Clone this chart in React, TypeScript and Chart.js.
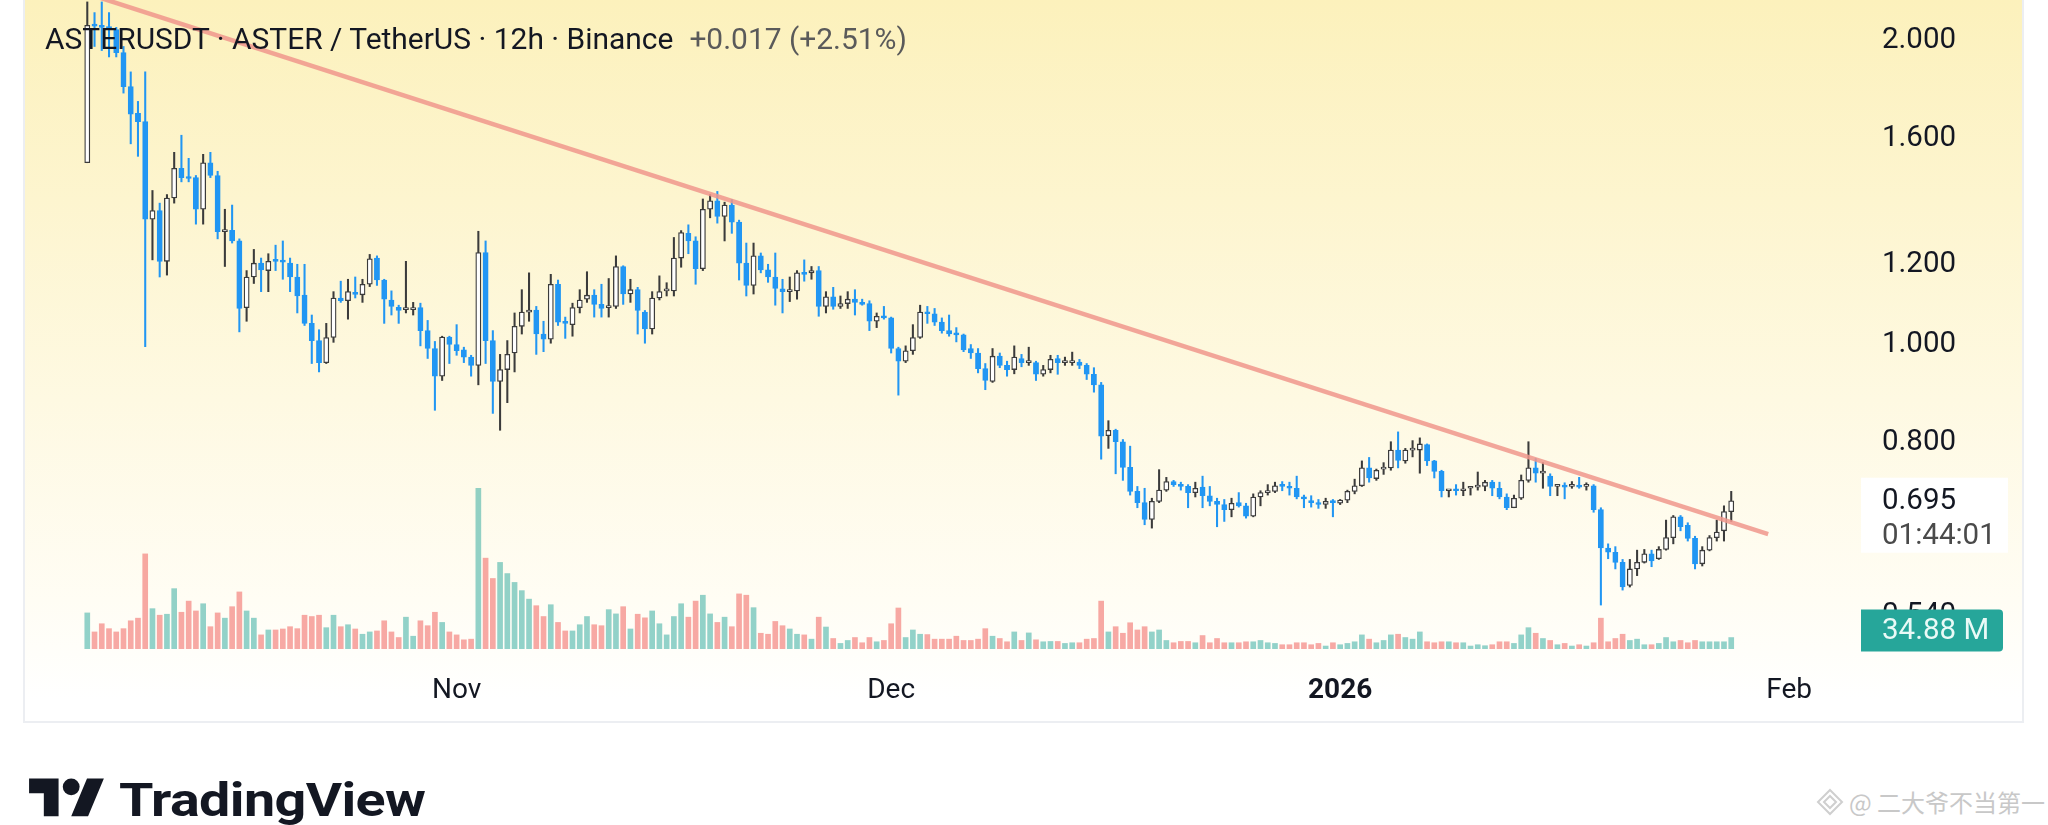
import React, { useEffect, useRef } from 'react';
import { Chart, registerables } from 'chart.js';

Chart.register(...registerables);

// ---- data (12h candles, ASTERUSDT) ----
const opens = [1.501,2.058,2.053,2.047,2.033,1.929,1.785,1.680,1.648,1.320,1.346,1.199,1.385,1.482,1.454,1.451,1.350,1.501,1.458,1.283,1.287,1.256,1.079,1.157,1.194,1.174,1.203,1.201,1.194,1.157,1.110,1.041,1.001,0.952,1.008,1.103,1.096,1.117,1.111,1.138,1.208,1.149,1.098,1.080,1.074,1.074,1.079,1.024,0.983,0.923,1.009,0.992,0.980,0.964,0.946,1.223,1.001,0.912,0.937,0.973,1.034,1.068,1.073,1.016,1.004,1.138,1.046,1.038,1.079,1.100,1.110,1.087,1.079,1.082,1.185,1.113,1.124,1.068,1.028,1.103,1.121,1.121,1.208,1.278,1.256,1.179,1.350,1.376,1.328,1.363,1.311,1.194,1.135,1.214,1.176,1.157,1.126,1.119,1.121,1.168,1.168,1.174,1.082,1.106,1.082,1.089,1.100,1.092,1.089,1.046,1.058,1.054,0.983,0.955,0.978,1.008,1.068,1.064,1.044,1.024,1.016,1.014,0.983,0.973,0.939,0.912,0.966,0.946,0.937,0.961,0.952,0.952,0.927,0.937,0.961,0.952,0.952,0.953,0.946,0.927,0.905,0.806,0.816,0.795,0.750,0.710,0.692,0.666,0.694,0.712,0.726,0.721,0.718,0.708,0.717,0.703,0.694,0.689,0.681,0.692,0.687,0.671,0.701,0.708,0.710,0.719,0.718,0.715,0.701,0.694,0.692,0.689,0.694,0.691,0.696,0.710,0.719,0.749,0.731,0.747,0.749,0.780,0.761,0.780,0.780,0.790,0.761,0.743,0.711,0.712,0.711,0.715,0.717,0.718,0.725,0.715,0.701,0.684,0.699,0.728,0.749,0.740,0.735,0.718,0.719,0.718,0.719,0.718,0.719,0.681,0.624,0.618,0.604,0.573,0.595,0.604,0.616,0.609,0.622,0.639,0.670,0.657,0.638,0.602,0.621,0.639,0.649,0.678];
const highs = [2.165,2.113,2.165,2.113,2.043,1.956,1.846,1.726,1.846,1.409,1.369,1.396,1.537,1.598,1.516,1.458,1.530,1.537,1.472,1.350,1.363,1.262,1.174,1.232,1.208,1.220,1.244,1.256,1.208,1.191,1.191,1.061,1.026,1.041,1.119,1.146,1.151,1.157,1.151,1.218,1.214,1.151,1.121,1.085,1.199,1.092,1.090,1.048,0.999,1.011,1.011,1.038,0.986,0.968,1.284,1.256,1.024,0.970,1.001,1.066,1.124,1.168,1.082,1.046,1.164,1.149,1.056,1.090,1.124,1.171,1.124,1.138,1.153,1.214,1.187,1.151,1.130,1.072,1.119,1.160,1.142,1.266,1.286,1.303,1.268,1.382,1.396,1.406,1.372,1.380,1.317,1.250,1.250,1.222,1.191,1.222,1.151,1.157,1.174,1.203,1.185,1.185,1.119,1.130,1.108,1.119,1.124,1.100,1.096,1.066,1.082,1.056,0.986,0.989,1.038,1.085,1.082,1.077,1.054,1.061,1.031,1.016,0.992,0.983,0.950,0.983,0.973,0.955,0.989,0.970,0.986,0.955,0.946,0.968,0.968,0.964,0.975,0.959,0.950,0.941,0.910,0.834,0.818,0.799,0.787,0.718,0.715,0.699,0.746,0.733,0.728,0.725,0.721,0.725,0.735,0.718,0.699,0.697,0.699,0.708,0.691,0.706,0.711,0.721,0.725,0.726,0.725,0.735,0.704,0.703,0.697,0.699,0.697,0.697,0.712,0.730,0.761,0.767,0.747,0.758,0.795,0.813,0.783,0.797,0.802,0.791,0.762,0.745,0.712,0.721,0.725,0.718,0.742,0.728,0.728,0.725,0.706,0.704,0.737,0.795,0.765,0.758,0.739,0.721,0.724,0.726,0.733,0.724,0.721,0.684,0.630,0.626,0.608,0.608,0.621,0.622,0.621,0.626,0.665,0.672,0.672,0.661,0.641,0.626,0.642,0.665,0.687,0.710];
const lows = [1.501,1.956,1.938,1.910,1.910,1.759,1.567,1.523,0.987,1.203,1.157,1.162,1.369,1.437,1.437,1.305,1.305,1.451,1.262,1.185,1.250,1.021,1.046,1.140,1.119,1.119,1.174,1.151,1.119,1.066,1.036,0.950,0.932,0.950,0.997,1.092,1.051,1.103,1.092,1.132,1.135,1.041,1.061,1.041,1.066,1.061,0.989,0.961,0.854,0.914,0.950,0.968,0.952,0.923,0.905,0.950,0.848,0.816,0.869,0.932,1.016,1.046,0.970,0.976,0.995,1.036,1.006,1.011,1.066,1.092,1.056,1.056,1.056,1.077,1.087,1.092,1.016,0.995,1.016,1.098,1.108,1.108,1.183,1.220,1.138,1.174,1.324,1.308,1.256,1.278,1.149,1.108,1.113,1.168,1.143,1.085,1.066,1.094,1.100,1.146,1.151,1.058,1.066,1.075,1.077,1.077,1.061,1.085,1.024,1.031,1.051,0.973,0.884,0.952,0.970,1.006,1.041,1.036,1.018,1.011,0.998,0.976,0.961,0.930,0.895,0.910,0.941,0.923,0.928,0.943,0.946,0.914,0.923,0.930,0.927,0.946,0.946,0.939,0.916,0.890,0.764,0.783,0.739,0.728,0.704,0.684,0.658,0.653,0.692,0.710,0.718,0.712,0.684,0.701,0.684,0.687,0.655,0.663,0.670,0.685,0.668,0.670,0.687,0.704,0.708,0.711,0.704,0.698,0.684,0.685,0.683,0.683,0.670,0.689,0.692,0.706,0.718,0.725,0.728,0.738,0.745,0.749,0.757,0.768,0.740,0.753,0.732,0.701,0.701,0.704,0.703,0.704,0.712,0.711,0.703,0.698,0.681,0.684,0.697,0.725,0.725,0.715,0.703,0.703,0.698,0.715,0.715,0.712,0.677,0.548,0.609,0.595,0.567,0.571,0.586,0.603,0.598,0.608,0.621,0.630,0.649,0.634,0.595,0.599,0.620,0.634,0.634,0.663];
const closes = [2.053,2.049,2.043,2.033,1.929,1.785,1.677,1.648,1.320,1.346,1.199,1.385,1.482,1.451,1.448,1.350,1.501,1.458,1.283,1.287,1.256,1.077,1.157,1.194,1.176,1.199,1.199,1.197,1.157,1.108,1.041,1.001,0.952,1.008,1.103,1.096,1.119,1.112,1.138,1.206,1.149,1.100,1.082,1.072,1.076,1.079,1.024,0.983,0.923,1.009,0.992,0.978,0.964,0.946,1.223,1.001,0.912,0.937,0.970,1.034,1.068,1.073,1.016,1.004,1.138,1.044,1.041,1.079,1.098,1.110,1.087,1.077,1.082,1.185,1.113,1.124,1.072,1.028,1.103,1.119,1.124,1.208,1.280,1.256,1.179,1.350,1.376,1.328,1.363,1.311,1.194,1.135,1.214,1.176,1.157,1.127,1.119,1.121,1.168,1.164,1.174,1.082,1.106,1.082,1.089,1.100,1.092,1.087,1.046,1.058,1.054,0.983,0.955,0.978,1.008,1.068,1.064,1.044,1.024,1.016,1.014,0.980,0.973,0.939,0.914,0.966,0.946,0.937,0.964,0.952,0.955,0.927,0.937,0.959,0.952,0.955,0.955,0.946,0.927,0.905,0.805,0.816,0.795,0.750,0.710,0.692,0.666,0.694,0.712,0.726,0.721,0.718,0.708,0.715,0.703,0.694,0.689,0.681,0.691,0.687,0.671,0.701,0.708,0.710,0.719,0.718,0.715,0.701,0.698,0.692,0.689,0.694,0.692,0.696,0.710,0.719,0.749,0.732,0.745,0.749,0.780,0.762,0.780,0.782,0.791,0.761,0.743,0.711,0.712,0.711,0.712,0.718,0.718,0.725,0.715,0.701,0.684,0.699,0.728,0.749,0.740,0.742,0.718,0.719,0.717,0.719,0.717,0.719,0.681,0.624,0.618,0.604,0.571,0.595,0.604,0.616,0.606,0.622,0.639,0.670,0.655,0.638,0.602,0.621,0.639,0.647,0.678,0.695];
const volumesM = [110,52,77,62,52,62,86,94,290,123,103,106,184,112,146,116,138,68,110,94,129,174,116,94,43,58,58,61,68,62,103,99,103,65,103,68,74,61,45,52,55,86,52,35,97,39,86,71,112,81,52,43,28,30,490,277,215,264,230,203,178,152,132,99,135,81,55,55,74,99,74,71,120,107,129,61,106,95,116,77,43,99,138,97,146,164,107,81,97,68,168,164,126,48,45,84,71,61,45,43,30,97,67,32,17,26,35,19,35,22,26,77,125,35,58,45,44,30,30,30,39,26,26,30,62,39,32,22,52,26,49,28,22,23,23,17,19,19,30,32,146,52,68,48,80,58,68,52,58,26,19,23,23,19,41,19,32,19,19,19,22,22,26,19,17,13,13,19,19,13,17,9,19,13,17,22,43,30,19,26,43,45,35,30,52,22,19,22,22,19,19,9,13,10,13,22,22,17,43,65,48,32,26,13,17,9,13,9,19,94,22,32,45,26,30,13,13,17,35,22,26,19,26,22,22,22,22,34.88];

const monthTickPositions = [51, 111, 173, 235];
const monthTickLabels = ['Nov', 'Dec', '2026', 'Feb'];
const priceTicks = [0.54, 0.8, 1.0, 1.2, 1.6, 2.0];
const trendLineX = [0, 232.1];
const trendLineY = [2.206, 0.644];

const symbolTitle = 'ASTERUSDT · ASTER / TetherUS · 12h · Binance';
const changeText = '+0.017 (+2.51%)';
const countdownText = '01:44:01';
const lastVolumeText = '34.88 M';
const watermarkText = '@ 二大爷不当第一';

const UP_BODY = '#ffffff';
const UP_LINE = '#3b3b3b';
const DOWN = '#2196f3';
const VOL_UP = 'rgba(38,166,154,0.5)';
const VOL_DOWN = 'rgba(239,83,80,0.5)';

const FONT = 'Roboto, "Noto Sans", sans-serif';

function zeroPad(scale: any) {
  scale.paddingTop = 0;
  scale.paddingBottom = 0;
  scale.paddingLeft = 0;
  scale.paddingRight = 0;
}

function ChartCanvas() {
  const ref = useRef<HTMLCanvasElement | null>(null);
  useEffect(() => {
    if (!ref.current) return;
    const n = closes.length;
    const isUp = closes.map((c, i) => c >= opens[i]);

    const labelPlugin = {
      id: 'lastLabels',
      afterDraw(chart: any) {
        const ctx = chart.ctx;
        const area = chart.chartArea;
        const ys = chart.scales.y;
        const yv = chart.scales.yv;
        const last = n - 1;
        const py = ys.getPixelForValue(closes[last]);
        const bx = area.right + 11;
        ctx.save();
        ctx.fillStyle = '#ffffff';
        ctx.fillRect(bx, py - 23, 147, 75);
        ctx.textAlign = 'left';
        ctx.textBaseline = 'middle';
        ctx.font = `29.5px ${FONT}`;
        ctx.fillStyle = '#131722';
        ctx.fillText(closes[last].toFixed(3), area.right + 32, py + 1);
        ctx.fillStyle = '#4a4a4a';
        ctx.fillText(countdownText, area.right + 32, py + 36);
        const vy = yv.getPixelForValue(volumesM[last]) - 7;
        ctx.fillStyle = '#26a69a';
        ctx.beginPath();
        const w = 142, h = 42, r = 4;
        const x0 = bx, y0 = vy - h / 2;
        ctx.moveTo(x0, y0);
        ctx.lineTo(x0 + w - r, y0);
        ctx.quadraticCurveTo(x0 + w, y0, x0 + w, y0 + r);
        ctx.lineTo(x0 + w, y0 + h - r);
        ctx.quadraticCurveTo(x0 + w, y0 + h, x0 + w - r, y0 + h);
        ctx.lineTo(x0, y0 + h);
        ctx.closePath();
        ctx.fill();
        ctx.fillStyle = '#eafaf7';
        ctx.fillText(lastVolumeText, area.right + 32, vy + 1);
        ctx.restore();
      },
    };

    const chart = new Chart(ref.current, {
      type: 'bar',
      data: {
        datasets: [
          {
            type: 'line',
            label: 'trend',
            data: trendLineX.map((x, i) => ({ x, y: trendLineY[i] })),
            borderColor: 'rgba(240,150,140,0.85)',
            borderWidth: 4.5,
            pointRadius: 0,
            yAxisID: 'y',
            order: 0,
          } as any,
          {
            label: 'body',
            data: opens.map((o, i) => ({ x: i, y: [o, closes[i]] })),
            backgroundColor: isUp.map((u) => (u ? UP_BODY : DOWN)),
            borderColor: isUp.map((u) => (u ? UP_LINE : DOWN)),
            borderWidth: 1.3,
            borderSkipped: false,
            barThickness: 5.2,
            minBarLength: 2,
            grouped: false,
            yAxisID: 'y',
            order: 1,
          } as any,
          {
            label: 'wick',
            data: lows.map((l, i) => ({ x: i, y: [l, highs[i]] })),
            backgroundColor: isUp.map((u) => (u ? UP_LINE : DOWN)),
            borderWidth: 0,
            barThickness: 1.4,
            grouped: false,
            yAxisID: 'y',
            order: 2,
          } as any,
          {
            label: 'volume',
            data: volumesM.map((v, i) => ({ x: i, y: v })),
            backgroundColor: isUp.map((u) => (u ? VOL_UP : VOL_DOWN)),
            borderWidth: 0,
            barThickness: 5,
            grouped: false,
            yAxisID: 'yv',
            order: 3,
          } as any,
        ],
      },
      options: {
        animation: false,
        responsive: false,
        devicePixelRatio: 1,
        layout: { padding: 0, autoPadding: false },
        plugins: { legend: { display: false }, tooltip: { enabled: false } },
        scales: {
          x: {
            type: 'linear',
            min: -8.6,
            max: 243.4,
            offset: false,
            grid: { display: false, drawTicks: false },
            border: { display: false },
            afterBuildTicks: (scale: any) => {
              scale.ticks = monthTickPositions.map((v) => ({ value: v }));
            },
            afterFit: (scale: any) => {
              scale.height = 72;
              zeroPad(scale);
            },
            ticks: {
              autoSkip: false,
              maxRotation: 0,
              padding: 25,
              color: '#131722',
              font: (ctx: any) => ({
                family: FONT,
                size: 28,
                weight: ctx.tick && ctx.tick.value === 173 ? 'bold' : 'normal',
              }),
              callback: (v: any) => {
                const k = monthTickPositions.indexOf(Number(v));
                return k >= 0 ? monthTickLabels[k] : '';
              },
            },
          },
          y: {
            type: 'logarithmic',
            position: 'right',
            min: 0.4958,
            max: 2.1745,
            grid: { display: false, drawTicks: false },
            border: { display: false },
            afterBuildTicks: (scale: any) => {
              scale.ticks = priceTicks.map((v) => ({ value: v }));
            },
            afterFit: (scale: any) => {
              scale.width = 172;
              zeroPad(scale);
            },
            ticks: {
              padding: 32,
              crossAlign: 'near',
              labelOffset: 4,
              color: '#131722',
              font: { family: FONT, size: 29.5 },
              callback: (v: any) => Number(v).toFixed(3),
            },
          },
          yv: {
            type: 'linear',
            display: false,
            min: 0,
            max: 1979,
          },
        },
      } as any,
      plugins: [labelPlugin],
    });
    return () => chart.destroy();
  }, []);
  return (
    <canvas
      ref={ref}
      width={1997}
      height={721}
      style={{ position: 'absolute', left: 25, top: 0, width: 1997, height: 721 }}
    />
  );
}

export default function App() {
  useEffect(() => {
    document.body.style.margin = '0';
  }, []);
  return (
    <div
      style={{
        position: 'fixed',
        left: 0,
        top: 0,
        width: 2048,
        height: 825,
        background: '#ffffff',
        overflow: 'hidden',
        fontFamily: FONT,
      }}
    >
      <div
        style={{
          position: 'absolute',
          left: 23,
          top: -2,
          width: 2001,
          height: 725,
          boxSizing: 'border-box',
          border: '2px solid #eceef2',
          background:
            'linear-gradient(180deg, #fcf1bc 0px, #fdf5cf 200px, #fef9e2 400px, #fffdf4 600px, #ffffff 700px)',
        }}
      />
      <ChartCanvas />
      <div
        style={{
          position: 'absolute',
          left: 45,
          top: 21,
          fontSize: 29.95,
          lineHeight: '35px',
          whiteSpace: 'nowrap',
          color: '#131722',
        }}
      >
        <span>{symbolTitle}</span>
        <span style={{ marginLeft: 16, color: '#5a5a5a' }}>{changeText}</span>
      </div>
      <div style={{ position: 'absolute', left: 29, top: 770, display: 'flex', alignItems: 'center' }}>
        <svg width={76} height={59} viewBox="0 0 36 28">
          <path d="M14 22H7V11H0V4h14v18ZM28 22h-8l7.5-18h8L28 22Z" fill="#131722" />
          <circle cx={20} cy={8} r={4} fill="#131722" />
        </svg>
        <span
          style={{
            marginLeft: 14,
            fontSize: 46,
            fontWeight: 700,
            color: '#131722',
            display: 'inline-block',
            transform: 'scaleX(1.21)',
            transformOrigin: 'left center',
            letterSpacing: -0.5,
          }}
        >
          TradingView
        </span>
      </div>
      <div
        style={{
          position: 'absolute',
          left: 1815,
          top: 784,
          display: 'flex',
          alignItems: 'center',
          color: '#c8c8c8',
          fontFamily: '"Noto Sans CJK SC", sans-serif',
          fontSize: 24,
          whiteSpace: 'nowrap',
        }}
      >
        <svg width={30} height={30} viewBox="0 0 30 30">
          <g stroke="#cfcfcf" fill="none" strokeWidth={2}>
            <path d="M15 3 L27 15 L15 27 L3 15Z" />
            <path d="M15 9 L21 15 L15 21 L9 15Z" />
          </g>
        </svg>
        <span style={{ marginLeft: 4 }}>{watermarkText}</span>
      </div>
    </div>
  );
}
